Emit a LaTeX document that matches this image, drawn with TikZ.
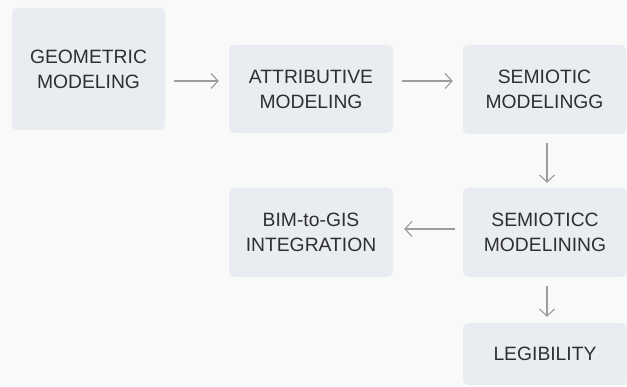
\documentclass[tikz,border=0pt]{standalone}
\usepackage{fontspec}
\setmainfont{Liberation Sans}
\usetikzlibrary{arrows.meta}
\definecolor{pagebg}{HTML}{F9F9F9}
\definecolor{boxfill}{HTML}{E9ECF0}
\definecolor{labeltext}{HTML}{2F2F2F}
\definecolor{linkgray}{HTML}{9C9C9C}
\tikzset{
  x=1pt, y=1pt,
  stage/.style={fill=boxfill, rounded corners=5pt, align=center, inner sep=0pt,
    text=labeltext, font=\fontsize{19.3}{25}\selectfont},
  link/.style={draw=linkgray, line width=1.1pt,
    -{Straight Barb[length=7pt,width=15pt,line width=1.1pt]}}
}
\begin{document}
\begin{tikzpicture}
  \fill[pagebg] (0,0) rectangle (627,386);
  \useasboundingbox (0,0) rectangle (627,386);

  \node[stage, minimum width=153, minimum height=122] (geo) at (88.5,317) {GEOMETRIC\\MODELING};
  \node[stage, minimum width=164, minimum height=88] (attr) at (311,297) {ATTRIBUTIVE\\MODELING};
  \node[stage, minimum width=163, minimum height=89] (sem) at (544.5,296.5) {SEMIOTIC\\MODELINGG};
  \node[stage, minimum width=164, minimum height=89] (semc) at (545,153.5) {SEMIOTICC\\MODELINING};
  \node[stage, minimum width=164, minimum height=89] (bim) at (311,153.5) {BIM-to-GIS\\INTEGRATION};
  \node[stage, minimum width=164, minimum height=62] (leg) at (545,32) {LEGIBILITY};

  % connector heights
  \coordinate (rowA) at (0,305);
  \coordinate (rowB) at (0,157);
  \coordinate (colR) at (547,0);

  \draw[link, shorten <=9pt, shorten >=10pt] (geo.east |- rowA) -- (attr.west |- rowA);
  \draw[link, shorten <=9pt, shorten >=10pt] (attr.east |- rowA) -- (sem.west |- rowA);
  \draw[link, shorten <=9pt, shorten >=5pt] (colR |- sem.south) -- (colR |- semc.north);
  \draw[link, shorten <=8pt, shorten >=11pt] (semc.west |- rowB) -- (bim.east |- rowB);
  \draw[link, shorten <=9pt, shorten >=6pt] (colR |- semc.south) -- (colR |- leg.north);
\end{tikzpicture}
\end{document}
